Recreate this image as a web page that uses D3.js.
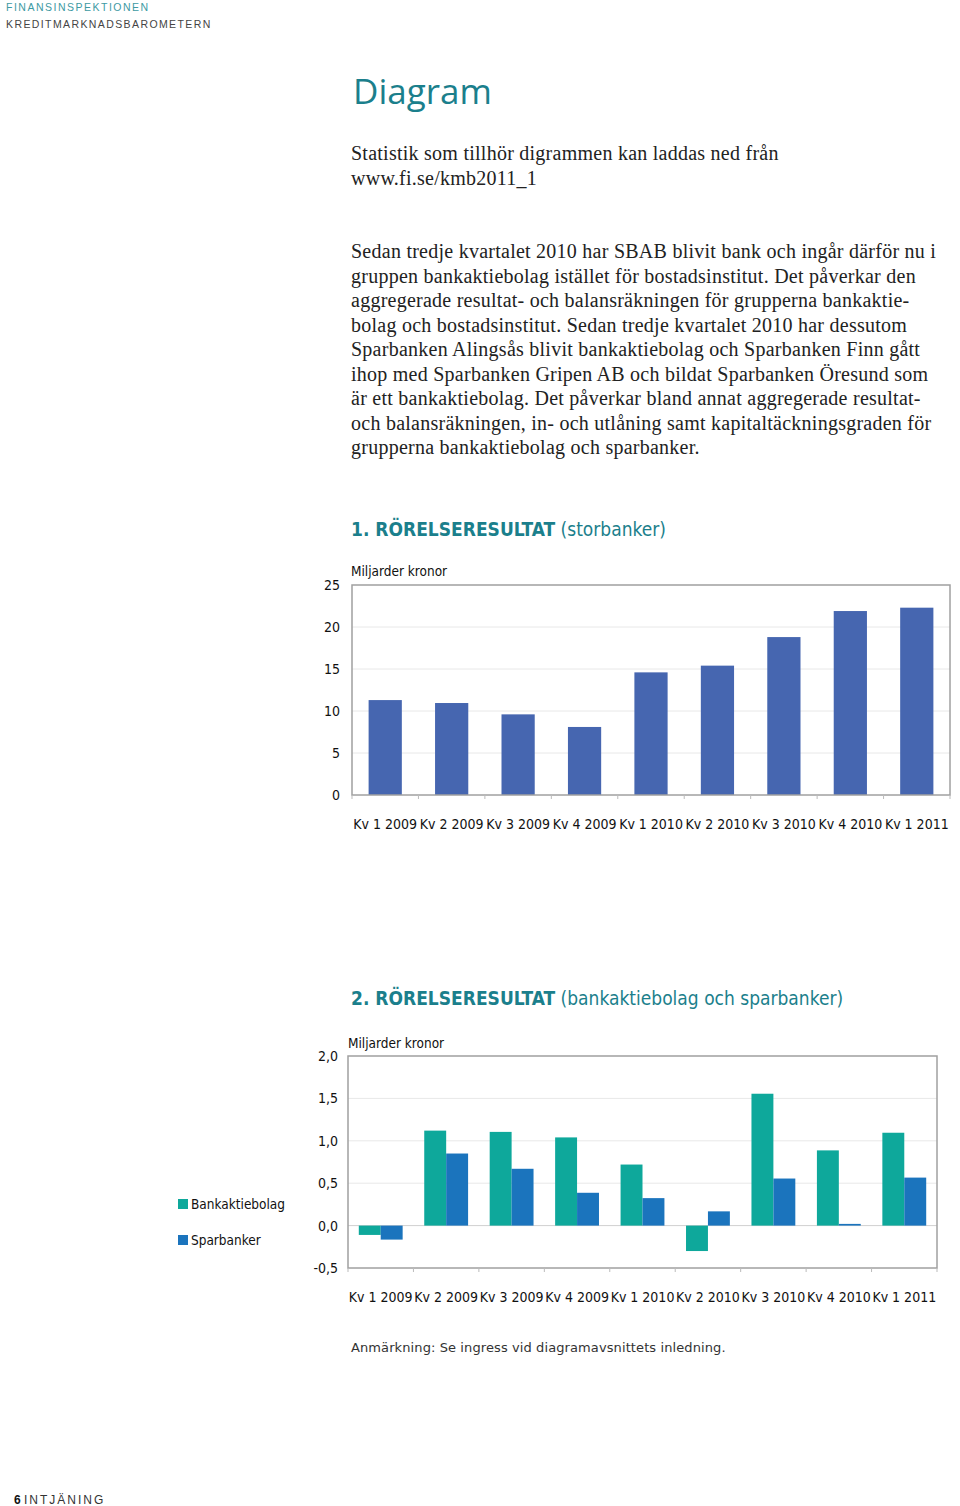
<!DOCTYPE html>
<html><head><meta charset="utf-8">
<script src="https://cdn.jsdelivr.net/npm/d3@7"></script>
<style>
html,body{margin:0;padding:0;background:#fff;}
svg{display:block;}
</style></head>
<body>
<script>
// ---------- DATA ----------
const categories = ["Kv 1 2009","Kv 2 2009","Kv 3 2009","Kv 4 2009","Kv 1 2010","Kv 2 2010","Kv 3 2010","Kv 4 2010","Kv 1 2011"];
const storbanker = [11.3, 10.95, 9.6, 8.1, 14.6, 15.4, 18.8, 21.9, 22.3];
const chart1Ticks = [0, 5, 10, 15, 20, 25];
const seriesNames = ["Bankaktiebolag", "Sparbanker"];
const bankaktiebolag = [-0.11, 1.12, 1.105, 1.04, 0.72, -0.30, 1.555, 0.887, 1.095];
const sparbanker = [-0.165, 0.85, 0.67, 0.387, 0.324, 0.168, 0.555, 0.02, 0.566];
const chart2Ticks = [-0.5, 0, 0.5, 1.0, 1.5, 2.0];
const bodyIntro = ["Statistik som tillhör digrammen kan laddas ned från", "www.fi.se/kmb2011_1"];
const bodyPara = [
 "Sedan tredje kvartalet 2010 har SBAB blivit bank och ingår därför nu i",
 "gruppen bankaktiebolag istället för bostadsinstitut. Det påverkar den",
 "aggregerade resultat- och balansräkningen för grupperna bankaktie-",
 "bolag och bostadsinstitut. Sedan tredje kvartalet 2010 har dessutom",
 "Sparbanken Alingsås blivit bankaktiebolag och Sparbanken Finn gått",
 "ihop med Sparbanken Gripen AB och bildat Sparbanken Öresund som",
 "är ett bankaktiebolag. Det påverkar bland annat aggregerade resultat-",
 "och balansräkningen, in- och  utlåning samt kapitaltäckningsgraden för",
 "grupperna bankaktiebolag och sparbanker."
];

// ---------- STYLE ----------
const TEAL = "#1b7f8c";
const C1 = "#4666b0";
const CTEAL = "#0ea89b";
const CBLUE = "#1b74bd";
const chartFont = "'DejaVu Sans Condensed','DejaVu Sans',sans-serif";
const serif = "'Liberation Serif','DejaVu Serif',serif";

const svg = d3.select("body").append("svg").attr("width",960).attr("height",1506);

// header
svg.append("text").attr("x",6).attr("y",11).text("FINANSINSPEKTIONEN")
  .attr("font-family","'Liberation Sans',Arial,sans-serif").attr("font-size",10.5).attr("letter-spacing",1.5).attr("fill","#3d9aa3");
svg.append("text").attr("x",6).attr("y",28).text("KREDITMARKNADSBAROMETERN")
  .attr("font-family","'Liberation Sans',Arial,sans-serif").attr("font-size",10.5).attr("letter-spacing",1.4).attr("fill","#444");

svg.append("text").attr("x",353).attr("y",104).text("Diagram")
  .attr("font-family","'Open Sans','DejaVu Sans',sans-serif").attr("font-size",35).attr("fill",TEAL);

bodyIntro.forEach((t,i)=>svg.append("text").attr("x",351).attr("y",160+i*24.5).text(t)
  .attr("font-family",serif).attr("font-size",20).attr("letter-spacing",0.25).attr("fill","#222"));
bodyPara.forEach((t,i)=>svg.append("text").attr("x",351).attr("y",258+i*24.5).text(t)
  .attr("font-family",serif).attr("font-size",20).attr("letter-spacing",0.25).attr("fill","#222"));

function title(y, bold, rest){
  const t = svg.append("text").attr("x",351).attr("y",y).attr("font-family",chartFont).attr("font-size",19).attr("fill",TEAL);
  t.append("tspan").attr("font-weight","bold").text(bold);
  t.append("tspan").text(rest);
}
title(536, "1. RÖRELSERESULTAT", " (storbanker)");
title(1005, "2. RÖRELSERESULTAT", " (bankaktiebolag och sparbanker)");

// ---------- CHART 1 ----------
{
  const L=352,R=950,T=585,B=795;
  const x = d3.scaleBand().domain(categories).range([L,R]).paddingInner(0.5).paddingOuter(0.25);
  const y = d3.scaleLinear().domain([0,25]).range([B,T]);
  const g = svg.append("g");
  g.selectAll("line.grid").data(chart1Ticks.filter(d=>d>0&&d<25)).join("line")
    .attr("x1",L).attr("x2",R).attr("y1",d=>y(d)).attr("y2",d=>y(d)).attr("stroke","#e8e8e8");
  g.selectAll("rect.bar").data(storbanker).join("rect")
    .attr("x",(d,i)=>x(categories[i])).attr("width",x.bandwidth())
    .attr("y",d=>y(d)).attr("height",d=>y(0)-y(d)).attr("fill",C1);
  g.append("rect").attr("x",L).attr("y",T).attr("width",R-L).attr("height",B-T).attr("fill","none").attr("stroke","#a0a0a0").attr("stroke-width",1.5);
  g.selectAll("line.tk").data(d3.range(categories.length+1)).join("line")
    .attr("x1",i=>L+i*(R-L)/categories.length).attr("x2",i=>L+i*(R-L)/categories.length)
    .attr("y1",B).attr("y2",B+4).attr("stroke","#bbb");
  const ya = d3.axisLeft(y).tickValues(chart1Ticks).tickSize(0).tickPadding(12);
  const yg = g.append("g").attr("transform",`translate(${L},0)`).call(ya);
  yg.select(".domain").remove();
  yg.selectAll("text").attr("font-family",chartFont).attr("font-size",14).attr("fill","#111");
  const xa = d3.axisBottom(x).tickSize(0).tickPadding(24);
  const xg = g.append("g").attr("transform",`translate(0,${B})`).call(xa);
  xg.select(".domain").remove();
  xg.selectAll("text").attr("font-family",chartFont).attr("font-size",14).attr("fill","#111");
  g.append("text").attr("x",351).attr("y",576).text("Miljarder kronor").attr("font-family",chartFont).attr("font-size",13.5).attr("fill","#111");
}

// ---------- CHART 2 ----------
{
  const L=348,R=937,T=1056,B=1268;
  const x = d3.scaleBand().domain(categories).range([L,R]).paddingInner(0.33).paddingOuter(0.165);
  const xs = d3.scaleBand().domain(seriesNames).range([0,x.bandwidth()]);
  const y = d3.scaleLinear().domain([-0.5,2.0]).range([B,T]);
  const color = d3.scaleOrdinal().domain(seriesNames).range([CTEAL,CBLUE]);
  const g = svg.append("g");
  g.selectAll("line.grid").data(chart2Ticks.filter(d=>d>-0.5&&d<2)).join("line")
    .attr("x1",L).attr("x2",R).attr("y1",d=>y(d)).attr("y2",d=>y(d)).attr("stroke",d=>d===0?"#d0d0d0":"#e8e8e8");
  const rows = categories.map((c,i)=>({c, vals:[{s:seriesNames[0],v:bankaktiebolag[i]},{s:seriesNames[1],v:sparbanker[i]}]}));
  const grp = g.selectAll("g.grp").data(rows).join("g").attr("transform",d=>`translate(${x(d.c)},0)`);
  grp.selectAll("rect").data(d=>d.vals).join("rect")
    .attr("x",d=>xs(d.s)).attr("width",xs.bandwidth())
    .attr("y",d=>y(Math.max(0,d.v))).attr("height",d=>Math.abs(y(d.v)-y(0)))
    .attr("fill",d=>color(d.s));
  g.append("rect").attr("x",L).attr("y",T).attr("width",R-L).attr("height",B-T).attr("fill","none").attr("stroke","#a0a0a0").attr("stroke-width",1.5);
  g.selectAll("line.tk").data(d3.range(categories.length+1)).join("line")
    .attr("x1",i=>L+i*(R-L)/categories.length).attr("x2",i=>L+i*(R-L)/categories.length)
    .attr("y1",B).attr("y2",B+4).attr("stroke","#bbb");
  const fmt = d=>(d<0?"-":"")+d3.format(".1f")(Math.abs(d)).replace(".",",");
  const ya = d3.axisLeft(y).tickValues(chart2Ticks).tickFormat(fmt).tickSize(0).tickPadding(10);
  const yg = g.append("g").attr("transform",`translate(${L},0)`).call(ya);
  yg.select(".domain").remove();
  yg.selectAll("text").attr("font-family",chartFont).attr("font-size",14).attr("fill","#111");
  const xa = d3.axisBottom(x).tickSize(0).tickPadding(24);
  const xg = g.append("g").attr("transform",`translate(0,${B})`).call(xa);
  xg.select(".domain").remove();
  xg.selectAll("text").attr("font-family",chartFont).attr("font-size",14).attr("fill","#111");
  g.append("text").attr("x",348).attr("y",1048).text("Miljarder kronor").attr("font-family",chartFont).attr("font-size",13.5).attr("fill","#111");
  const lg = g.selectAll("g.leg").data(seriesNames).join("g").attr("transform",(d,i)=>`translate(178,${1199+i*36})`);
  lg.append("rect").attr("width",10).attr("height",10).attr("fill",d=>color(d));
  lg.append("text").attr("x",13).attr("y",10).text(d=>d).attr("font-family",chartFont).attr("font-size",13.5).attr("fill","#111");
}

svg.append("text").attr("x",351).attr("y",1352).text("Anmärkning: Se ingress vid diagramavsnittets inledning.")
  .attr("font-family","'DejaVu Sans',sans-serif").attr("font-size",13).attr("letter-spacing",0.1).attr("fill","#333");

const ft = svg.append("text").attr("x",14).attr("y",1504).attr("font-family","'Liberation Sans',Arial,sans-serif").attr("font-size",12).attr("fill","#333");
ft.append("tspan").attr("font-weight","bold").attr("fill","#111").text("6 ");
ft.append("tspan").attr("letter-spacing",2).text("INTJÄNING");
</script>
</body></html>
